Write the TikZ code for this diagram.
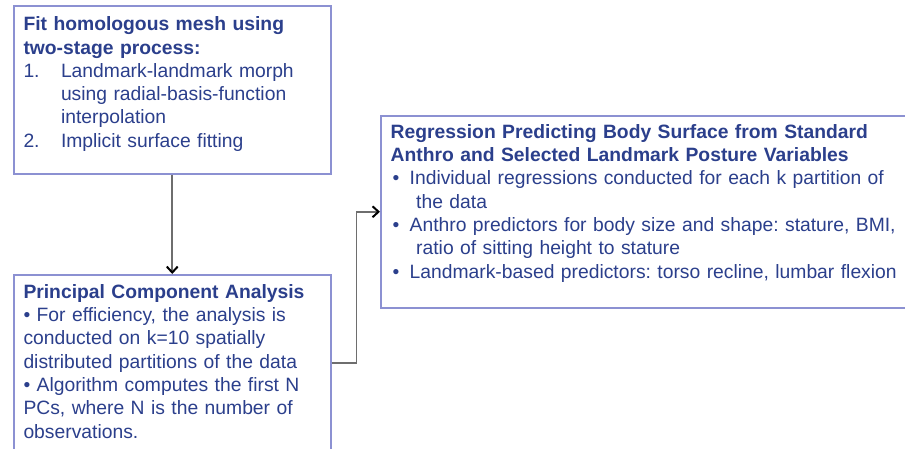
\documentclass[tikz,border=0pt]{standalone}
\usepackage{fontspec}
\setmainfont{Liberation Sans}
\usetikzlibrary{arrows.meta}
\frenchspacing
\definecolor{boxline}{HTML}{8C91D2}
\definecolor{boxtext}{HTML}{2B3F8C}
\definecolor{connline}{HTML}{6E6E6E}
\tikzset{
  box/.style={draw=boxline, line width=1.5pt, fill=white, anchor=north west, inner sep=0pt},
  boxlabel/.style={anchor=base west, inner sep=0pt, text=boxtext, align=left,
    font=\fontsize{19.3}{23.3}\selectfont},
  conn/.style={draw=connline, line width=1.6pt,
    -{Straight Barb[length=6pt,width=11pt,line width=2pt,color=black]}}
}
\newcommand{\numitem}[1]{\makebox[37.5pt][l]{#1}}
\newcommand{\numcont}{\hspace*{37.5pt}}
\newcommand{\bulitem}{\makebox[19pt][l]{\hspace*{2pt}•}}
\newcommand{\bulcont}{\hspace*{25.5pt}}
\begin{document}
\begin{tikzpicture}[x=1pt, y=-1pt]
  \useasboundingbox (0,0) rectangle (905,448);
  \clip (0,0) rectangle (905,448);

  % boxes
  \node[box, minimum width=317pt, minimum height=168pt] (fitbox) at (13,5) {};
  \node[box, minimum width=317pt, minimum height=176pt] (pcabox) at (13,274) {};
  \node[box, minimum width=540pt, minimum height=192pt] (regbox) at (380,115) {};

  % box texts
  \node[boxlabel, text width=300pt] (fittext) at (23.3,30.7) {%
    \textbf{Fit homologous mesh using}\\
    \textbf{two-stage process:}\\
    \numitem{1.}Landmark-landmark morph\\
    \numcont using radial-basis-function\\
    \numcont interpolation\\
    \numitem{2.}Implicit surface fitting};

  \node[boxlabel, text width=300pt] (pcatext) at (23.3,298.3) {%
    \textbf{Principal Component Analysis}\\
    • For efficiency, the analysis is\\
    conducted on k=10 spatially\\
    distributed partitions of the data\\
    • Algorithm computes the first N\\
    PCs, where N is the number of\\
    observations.};

  \node[boxlabel, text width=510pt] (regtext) at (390.5,138.3) {%
    \textbf{Regression Predicting Body Surface from Standard}\\
    \textbf{Anthro and Selected Landmark Posture Variables}\\
    \bulitem Individual regressions conducted for each k partition of\\
    \bulcont the data\\
    \bulitem Anthro predictors for body size and shape: stature, BMI,\\
    \bulcont ratio of sitting height to stature\\
    \bulitem Landmark-based predictors: torso recline, lumbar flexion};

  % connectors
  \draw[conn] (fitbox.south) -- (pcabox.north);
  \draw[conn] (pcabox.east) -- ++(25,0) |- (regbox.west);
\end{tikzpicture}
\end{document}
